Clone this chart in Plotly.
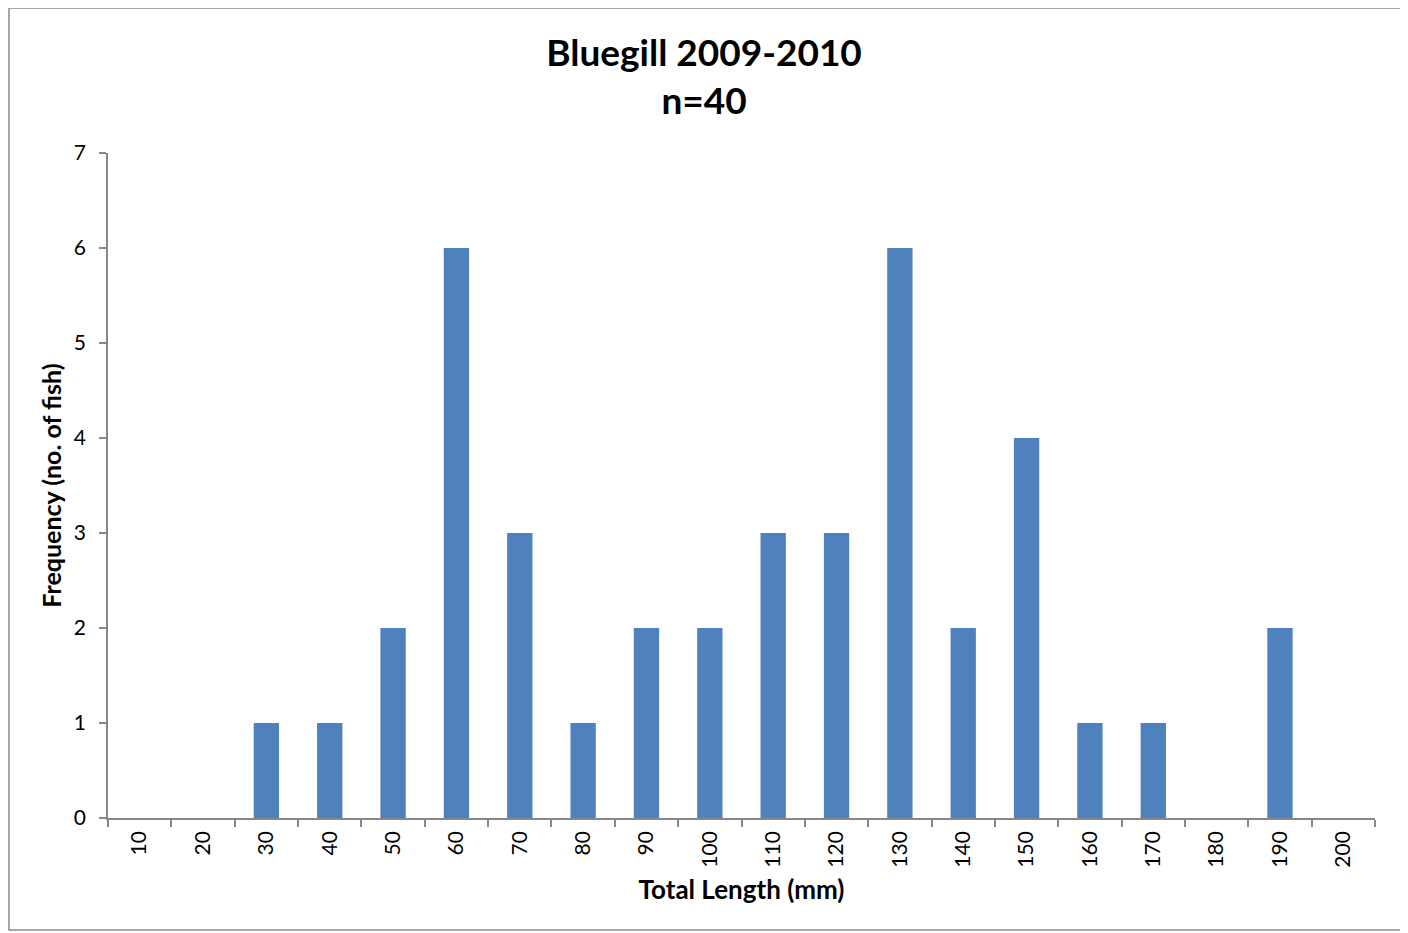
import plotly.graph_objects as go

lengths = ["10", "20", "30", "40", "50", "60", "70", "80", "90", "100",
           "110", "120", "130", "140", "150", "160", "170", "180", "190", "200"]
frequency = [0, 0, 1, 1, 2, 6, 3, 1, 2, 2, 3, 3, 6, 2, 4, 1, 1, 0, 2, 0]

FONT = "Lato"
OFF = 8  # page body margin
W, H = 1400, 925
L, T = 108 - OFF, 153 - OFF
R = W - (1375 - OFF)
B = H - (818 - OFF)
pw, ph = W - L - R, H - T - B

def px(x):
    return (x - OFF - L) / pw

def py(y):
    return (818 - y) / ph

fig = go.Figure(go.Bar(
    x=lengths, y=frequency, marker=dict(color="#4F81BD", line=dict(width=0)),
    width=0.4,
))

fig.update_layout(
    width=W, height=H,
    margin=dict(l=L, r=R, t=T, b=B),
    paper_bgcolor="white", plot_bgcolor="white",
    showlegend=False,
    title=dict(text="<b>Bluegill 2009-2010<br>n=40</b>", xref="container", yref="container",
               x=(704 - OFF) / W, xanchor="center",
               y=1 - (66 - OFF) / H, yanchor="middle",
               font=dict(family=FONT, size=37, color="black")),
    font=dict(family=FONT, color="black"),
    shapes=[dict(type="rect", xref="paper", yref="paper",
                 x0=px(9), x1=px(1401), y0=py(930), y1=py(8),
                 line=dict(color="#8C8C8C", width=1.5), fillcolor="rgba(0,0,0,0)", layer="below")],
)

fig.update_xaxes(
    type="category", range=[-0.5, 19.5], tickson="boundaries",
    ticks="outside", ticklen=7, tickcolor="#888888", tickwidth=1.5,
    showline=True, linecolor="#888888", linewidth=1.5,
    showgrid=False, tickangle=-90, ticklabelstandoff=3,
    tickfont=dict(family=FONT, size=21, color="black"),
    title=dict(text="<b>Total Length (mm)</b>", font=dict(family=FONT, size=26, color="black"), standoff=14),
)
fig.update_yaxes(
    range=[0, 7], dtick=1, tick0=0,
    ticks="outside", ticklen=7, tickcolor="#888888", tickwidth=1.5,
    showline=True, linecolor="#888888", linewidth=1.5,
    showgrid=False, zeroline=False, ticklabelstandoff=9,
    tickfont=dict(family=FONT, size=21, color="black"),
    title=dict(text="<b>Frequency (no. of fish)</b>", font=dict(family=FONT, size=25, color="black"), standoff=5),
)

fig.write_html("out.html")
